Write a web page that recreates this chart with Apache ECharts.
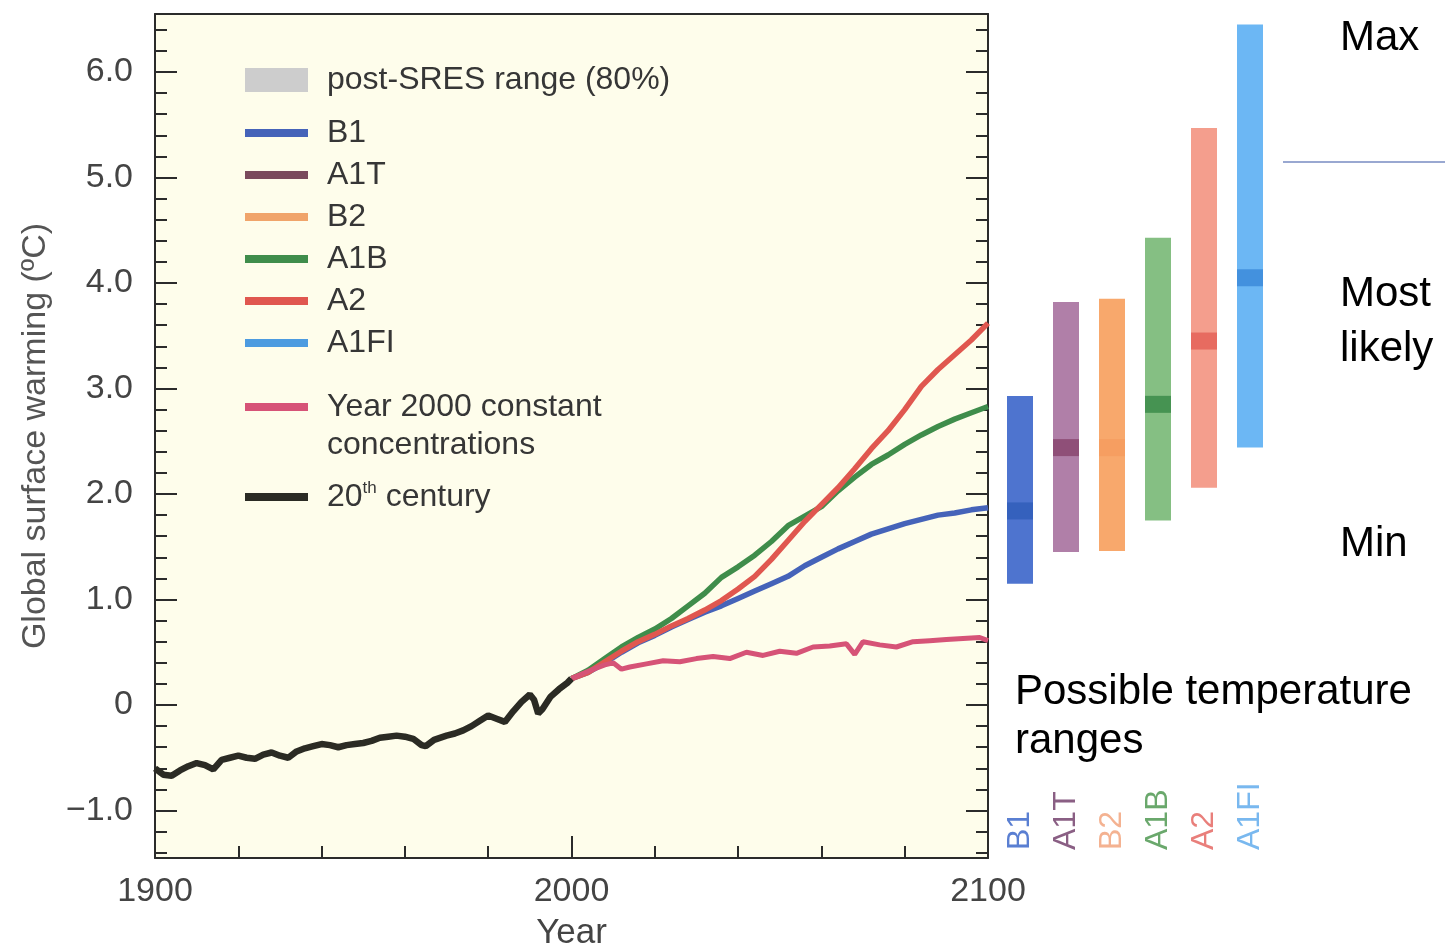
<!DOCTYPE html>
<html>
<head>
<meta charset="utf-8">
<title>Global surface warming projections</title>
<script src="https://cdn.jsdelivr.net/npm/echarts@6/dist/echarts.min.js"></script>
<style>
  html, body { margin: 0; padding: 0; background: #fff; }
  #chart { width: 1445px; height: 950px; }
</style>
</head>
<body>
<div id="chart"></div>
<script>
// 20th century observed warming
const histYears = [1900, 1902, 1904, 1906, 1908, 1910, 1912, 1914, 1916, 1918, 1920, 1922, 1924, 1926, 1928,
  1930, 1932, 1934, 1936, 1938, 1940, 1942, 1944, 1946, 1948, 1950, 1952, 1954, 1956, 1958, 1960, 1962,
  1964, 1965, 1967, 1970, 1972, 1974, 1976, 1978, 1980, 1982, 1984, 1986, 1988, 1990, 1991, 1992, 1993,
  1995, 1997, 1999, 2000]
const histTemps = [-0.60, -0.66, -0.67, -0.62, -0.58, -0.55, -0.57, -0.61, -0.52, -0.50, -0.48, -0.50, -0.51,
  -0.47, -0.45, -0.48, -0.50, -0.44, -0.41, -0.39, -0.37, -0.38, -0.40, -0.38, -0.37, -0.36, -0.34, -0.31,
  -0.30, -0.29, -0.30, -0.32, -0.38, -0.39, -0.33, -0.29, -0.27, -0.24, -0.20, -0.15, -0.10, -0.13, -0.16,
  -0.06, 0.03, 0.10, 0.05, -0.08, -0.04, 0.08, 0.15, 0.21, 0.25]

// scenario projections 2000-2100
const futureYears = [2000, 2004, 2008, 2012, 2016, 2020, 2024, 2028, 2032, 2036, 2040, 2044, 2048, 2052,
  2056, 2060, 2064, 2068, 2072, 2076, 2080, 2084, 2088, 2092, 2096, 2100]
const b1Temps = [0.25, 0.31, 0.40, 0.50, 0.59, 0.66, 0.74, 0.81, 0.88, 0.94, 1.01, 1.08, 1.15, 1.22,
  1.32, 1.40, 1.48, 1.55, 1.62, 1.67, 1.72, 1.76, 1.80, 1.82, 1.85, 1.87]
const a1bTemps = [0.25, 0.33, 0.44, 0.55, 0.64, 0.72, 0.82, 0.94, 1.06, 1.21, 1.31, 1.42, 1.55, 1.70,
  1.79, 1.88, 2.03, 2.16, 2.28, 2.37, 2.47, 2.56, 2.64, 2.71, 2.77, 2.83]
const a2Temps = [0.25, 0.31, 0.41, 0.51, 0.60, 0.67, 0.75, 0.82, 0.90, 0.99, 1.10, 1.22, 1.38, 1.56,
  1.74, 1.90, 2.06, 2.24, 2.43, 2.60, 2.80, 3.02, 3.18, 3.32, 3.46, 3.62]

// year 2000 constant concentrations
const constYears = [2000, 2004, 2008, 2010, 2012, 2014, 2018, 2022, 2026, 2030, 2034, 2038, 2042, 2046,
  2050, 2054, 2058, 2062, 2066, 2068, 2070, 2074, 2078, 2082, 2086, 2090, 2094, 2098, 2100]
const constTemps = [0.25, 0.32, 0.38, 0.40, 0.34, 0.36, 0.39, 0.42, 0.41, 0.44, 0.46, 0.44, 0.50, 0.47,
  0.51, 0.49, 0.55, 0.56, 0.58, 0.48, 0.60, 0.57, 0.55, 0.60, 0.61, 0.62, 0.63, 0.64, 0.61]

// possible temperature ranges (right panel)
const scenarios = ['B1', 'A1T', 'B2', 'A1B', 'A2', 'A1FI']
const rangeMin = [1.15, 1.45, 1.46, 1.75, 2.06, 2.44]
const rangeMax = [2.93, 3.82, 3.85, 4.43, 5.47, 6.45]
const bestEstimate = [1.84, 2.44, 2.44, 2.85, 3.45, 4.05]

// axis ticks
const yLabelTicks = [-1, 0, 1, 2, 3, 4, 5, 6]
const yMinorTicks = [-1.4, -1.2, -0.8, -0.6, -0.4, -0.2, 0.2, 0.4, 0.6, 0.8, 1.2, 1.4, 1.6, 1.8, 2.2, 2.4,
  2.6, 2.8, 3.2, 3.4, 3.6, 3.8, 4.2, 4.4, 4.6, 4.8, 5.2, 5.4, 5.6, 5.8, 6.2, 6.4]
const xLabelTicks = [1900, 2000, 2100]
const xMinorTicks = [1920, 1940, 1960, 1980, 2020, 2040, 2060, 2080]

const lineColors = {
  B1: '#4563b9', A1T: '#7a4a5c', B2: '#f0a46a', A1B: '#3f8d4b', A2: '#e0574f', A1FI: '#4c9be0',
  constant: '#d65377', hist: '#2b2b24', sres: '#cdcdcd'
}
const barColors = ['#4e74cf', '#b07fa8', '#f8a86c', '#85bf83', '#f49e8d', '#6cb7f4']
const bestColors = ['#335fba', '#8c4a72', '#f59c60', '#3f8e4d', '#e6655b', '#3f8ddc']
const labelColors = ['#5a7fd2', '#8a5f84', '#f4b291', '#6aa86c', '#e97f7b', '#79b8ef']

const yMin = -1.45
const yMax = 6.55
const axisColor = '#2b2b2b'
const font = 'Liberation Sans'

const toPairs = (xs, ys) => xs.map((x, i) => [x, ys[i]])
const yFmt = v => v === 0 ? '0' : (v < 0 ? '\u2212' + Math.abs(v).toFixed(1) : v.toFixed(1))

const chart = echarts.init(document.getElementById('chart'))

const legendText = { fontFamily: font, fontSize: 32, color: '#363636', lineHeight: 34, padding: [0, 0, 0, 14] }

const yAxisBase = (pos, len, ticks, labels) => ({
  type: 'value', gridIndex: 0, position: pos, min: yMin, max: yMax,
  axisLine: { show: true, onZero: false, lineStyle: { color: axisColor, width: 2 } },
  axisTick: { show: true, inside: true, length: len, customValues: ticks, lineStyle: { color: axisColor, width: 2 } },
  axisLabel: labels ? { show: true, customValues: yLabelTicks, formatter: yFmt, fontFamily: font, fontSize: 34, color: '#444', margin: 22 } : { show: false },
  splitLine: { show: false }
})

chart.setOption({
  animation: false,
  backgroundColor: '#ffffff',
  grid: [
    { left: 155, top: 14, width: 833, height: 844, outerBoundsMode: 'none', show: true, backgroundColor: '#fefdeb', borderWidth: 0 },
    { left: 997, top: 14, width: 276, height: 844, outerBoundsMode: 'none' }
  ],
  xAxis: [
    {
      type: 'value', gridIndex: 0, position: 'bottom', min: 1900, max: 2100,
      name: 'Year', nameLocation: 'middle', nameGap: 58,
      nameTextStyle: { fontFamily: font, fontSize: 35, color: '#444' },
      axisLine: { onZero: false, lineStyle: { color: axisColor, width: 2 } },
      axisTick: { inside: true, length: 12, customValues: xMinorTicks, lineStyle: { color: axisColor, width: 2 } },
      axisLabel: { customValues: xLabelTicks, formatter: v => String(v), fontFamily: font, fontSize: 34, color: '#444', margin: 17 },
      splitLine: { show: false }
    },
    {
      type: 'value', gridIndex: 0, position: 'bottom', min: 1900, max: 2100,
      axisLine: { show: false, onZero: false },
      axisTick: { inside: true, length: 22, customValues: [2000], lineStyle: { color: axisColor, width: 2 } },
      axisLabel: { show: false }, splitLine: { show: false }
    },
    {
      type: 'value', gridIndex: 0, position: 'top', min: 1900, max: 2100,
      axisLine: { onZero: false, lineStyle: { color: axisColor, width: 2 } },
      axisTick: { show: false }, axisLabel: { show: false }, splitLine: { show: false }
    },
    {
      type: 'category', gridIndex: 1, data: scenarios, position: 'bottom',
      axisLine: { show: false, onZero: false }, axisTick: { show: false },
      axisLabel: {
        inside: true, rotate: 90, margin: 8, fontFamily: font, fontSize: 32,
        color: (v, i) => labelColors[scenarios.indexOf(v)]
      }
    }
  ],
  yAxis: [
    Object.assign(yAxisBase('left', 22, yLabelTicks, true), {
      name: 'Global surface warming (\u00baC)', nameLocation: 'middle', nameGap: 102,
      nameTextStyle: { fontFamily: font, fontSize: 34, color: '#555' }
    }),
    Object.assign(yAxisBase('left', 12, yMinorTicks, false), { axisLine: { show: false, onZero: false } }),
    yAxisBase('right', 22, yLabelTicks, false),
    Object.assign(yAxisBase('right', 12, yMinorTicks, false), { axisLine: { show: false, onZero: false } }),
    { type: 'value', gridIndex: 1, min: yMin, max: yMax, show: false }
  ],
  legend: [
    {
      data: [{ name: 'post-SRES range (80%)', icon: 'rect' }], left: 245, top: 63, orient: 'vertical',
      itemWidth: 63, itemHeight: 24, padding: 0, selectedMode: false, textStyle: legendText
    },
    {
      data: ['B1', 'A1T', 'B2', 'A1B', 'A2', 'A1FI'], left: 245, top: 116, orient: 'vertical', icon: 'rect',
      itemWidth: 63, itemHeight: 8, itemGap: 8, padding: 0, selectedMode: false, textStyle: legendText
    },
    {
      // leading blank line keeps the swatch level with the first text line
      data: ['Year 2000 constant concentrations'], left: 245, top: 350, orient: 'vertical', icon: 'rect',
      itemWidth: 63, itemHeight: 8, padding: 0, selectedMode: false,
      formatter: () => '\nYear 2000 constant\nconcentrations',
      textStyle: Object.assign({}, legendText, { lineHeight: 38 })
    },
    {
      data: ['20th century'], left: 245, top: 480, orient: 'vertical', icon: 'rect',
      itemWidth: 63, itemHeight: 8, padding: 0, selectedMode: false,
      formatter: () => '20{sup|th} century',
      textStyle: Object.assign({}, legendText, {
        rich: { sup: { fontFamily: font, fontSize: 17, color: '#363636', lineHeight: 16, verticalAlign: 'top' } }
      })
    }
  ],
  graphic: [
    { type: 'text', x: 1340, y: 38, style: { text: 'Max', font: '42px "Liberation Sans"', fill: '#000', verticalAlign: 'middle' } },
    { type: 'text', x: 1340, y: 294, style: { text: 'Most', font: '42px "Liberation Sans"', fill: '#000', verticalAlign: 'middle' } },
    { type: 'text', x: 1340, y: 349, style: { text: 'likely', font: '42px "Liberation Sans"', fill: '#000', verticalAlign: 'middle' } },
    { type: 'text', x: 1340, y: 544, style: { text: 'Min', font: '42px "Liberation Sans"', fill: '#000', verticalAlign: 'middle' } },
    { type: 'text', x: 1015, y: 692, style: { text: 'Possible temperature', font: '42px "Liberation Sans"', fill: '#000', verticalAlign: 'middle' } },
    { type: 'text', x: 1015, y: 741, style: { text: 'ranges', font: '42px "Liberation Sans"', fill: '#000', verticalAlign: 'middle' } },
    { type: 'line', shape: { x1: 1283, y1: 162, x2: 1445, y2: 162 }, style: { stroke: '#3552a3', lineWidth: 1.2 } }
  ],
  series: [
    { name: 'post-SRES range (80%)', type: 'line', data: [], color: lineColors.sres },
    { name: 'A1T', type: 'line', data: [], color: lineColors.A1T },
    { name: 'B2', type: 'line', data: [], color: lineColors.B2 },
    { name: 'A1FI', type: 'line', data: [], color: lineColors.A1FI },
    {
      name: 'B1', type: 'line', data: toPairs(futureYears, b1Temps), color: lineColors.B1,
      showSymbol: false, symbol: 'none', lineStyle: { width: 5.5 }
    },
    {
      name: 'A1B', type: 'line', data: toPairs(futureYears, a1bTemps), color: lineColors.A1B,
      showSymbol: false, symbol: 'none', lineStyle: { width: 5.5 }
    },
    {
      name: 'A2', type: 'line', data: toPairs(futureYears, a2Temps), color: lineColors.A2,
      showSymbol: false, symbol: 'none', lineStyle: { width: 5.5 }
    },
    {
      name: 'Year 2000 constant concentrations', type: 'line', data: toPairs(constYears, constTemps),
      color: lineColors.constant, showSymbol: false, symbol: 'none', lineStyle: { width: 5 }
    },
    {
      name: '20th century', type: 'line', data: toPairs(histYears, histTemps), color: lineColors.hist,
      showSymbol: false, symbol: 'none', lineStyle: { width: 6.5 }
    },
    // range bars: transparent base + coloured span
    {
      name: 'rangeBase', type: 'bar', xAxisIndex: 3, yAxisIndex: 4, stack: 'range', barWidth: 26,
      silent: true, itemStyle: { color: 'transparent' }, data: rangeMin
    },
    {
      name: 'rangeSpan', type: 'bar', xAxisIndex: 3, yAxisIndex: 4, stack: 'range', barWidth: 26,
      data: rangeMax.map((m, i) => ({ value: m - rangeMin[i], itemStyle: { color: barColors[i] } }))
    },
    {
      name: 'best', type: 'scatter', xAxisIndex: 3, yAxisIndex: 4, symbol: 'rect', symbolSize: [26, 17],
      data: bestEstimate.map((v, i) => ({ value: v, itemStyle: { color: bestColors[i], opacity: 0.9 } }))
    }
  ]
})

window.addEventListener('resize', () => chart.resize())
</script>
</body>
</html>
